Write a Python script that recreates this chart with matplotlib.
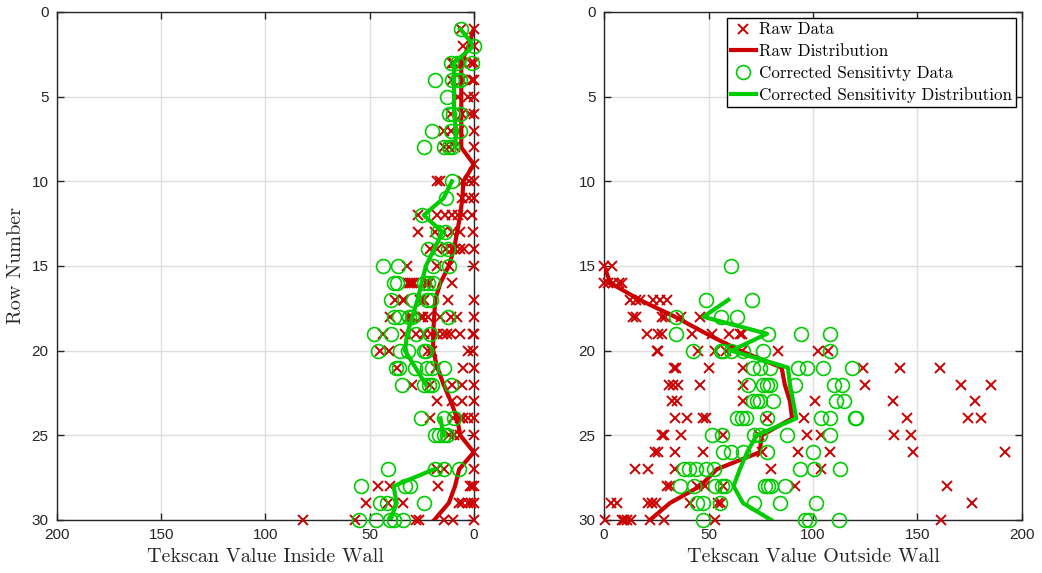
"""Tekscan row profiles: raw vs corrected-sensitivity readings, inside and outside wall."""

import matplotlib
matplotlib.use("Agg")
import matplotlib.pyplot as plt
import numpy as np

nan = np.nan

# ---------------------------------------------------------------------------
# Data (one entry per row, rows 1..30)
# ---------------------------------------------------------------------------
rows = list(range(1, 31))

inside_raw = [
    [0, 6], [5, 0], [10.5, 9.5, 5.5, 1.5, 0], [10.5, 5.5, 1, 0], [7.5, 3, 0],
    [11, 5.5, 2, 0], [14.5, 11, 7, 0], [14.5, 12, 9, 0], [0], [17.5, 16, 5, 2.5, 0],
    [5.5, 2.5, 0], [27, 17.5, 14, 10.5, 7.5, 5, 1], [27, 18.5, 15, 10.5, 6.5, 0.5],
    [21, 17.5, 13.5, 10.5, 9, 6.5, 4.5, 0], [32, 17.5, 12, 0],
    [31.5, 30.5, 29.5, 28.5, 23, 21.5, 10.5], [38, 34, 33.5, 26, 24, 12.5, 0],
    [40, 31, 29.5, 25.5, 24.5, 22, 16, 11, 8, 0],
    [43.5, 33, 27.5, 24, 20.5, 17.5, 15, 13, 11, 6.5, 0.5, 0],
    [45, 40.5, 22, 20, 3, 0.5], [37, 18, 5, 0], [29.5, 21, 10.5, 5.5, 0],
    [17.5, 10.5, 5.5, 0], [21, 10, 6.5, 5, 3, 0], [12, 9.5, 6.5, 0], [0],
    [17.5, 14.5, 0], [46, 40, 17, 2, 1, 0], [51.5, 41, 34, 7, 5.5, 3, 1.5, 0],
    [82, 57, 27.5, 26.5, 14.5, 10, 0],
]
inside_corr = [
    [6], [0], [11, 8, 1], [18.5, 10.5, 8, 6.5], [13], [12, 10, 6.5], [20, 11, 6.5],
    [24, 14.5, 12, 10.5], [], [10.5], [13.5], [25], [17, 14], [22, 16, 12.5],
    [43.5, 36.5, 19.5, 12], [38.5, 37, 24, 22, 19.5], [39.5, 29, 22.5, 20.5],
    [38.5, 36, 31, 29.5, 12.5], [48, 39.5, 27.5, 21], [46, 35.5, 31.5, 24, 23],
    [37.5, 36, 28, 22.5, 20, 14.5], [34.5, 24, 21.5, 20, 11], [], [25.5, 14.5, 9.5],
    [18.5, 16.5, 14.5, 13], [], [41, 18.5, 14.5, 7], [54, 33, 30.5], [45, 41.5, 24],
    [55, 47, 40, 38.5, 34],
]
inside_raw_dist = [0, 2.5, 6, 6, 6, 6, 6, 6, 0, 5, 5.5, 6.5, 8, 9.5, 12,
                   16, 18.5, 19, 19.5, 19.5, 17.5, 14.5, 11, 8, 6.5, 0, 7, 9, 12, 19]
inside_corr_dist = [6.5, 0, 9.5, 9.5, 9.5, 9.5, 8.5, 9, nan, 10.5, 14.5, 24, 15, 19, 23,
                    25, 27, 29.5, 32, 33, 28, 23, nan, 16, 14.5, nan, 19, 38.5, 37, 40]

outside_raw = [[]] * 14 + [
    [0, 4], [0, 2, 4.5, 7, 8.5], [12.5, 15.5, 17, 23.5, 27, 30],
    [14, 15.5, 27.5, 29, 37, 46], [20.5, 26, 27.5, 42, 51.5, 60, 65, 66],
    [25.5, 26, 45, 53, 58.5, 66, 83.5, 102.5, 107],
    [33.5, 34.5, 50, 66.5, 124, 141.5, 161],
    [31, 33, 35.5, 46, 66.5, 125, 171, 185],
    [32.5, 35, 66.5, 101, 138.5, 177.5],
    [34, 39.5, 47.5, 49, 78, 95.5, 145, 174, 180.5],
    [27.5, 28.5, 37, 57, 74, 97, 104, 139, 147],
    [24.5, 26, 34, 47.5, 75.5, 93, 108, 148, 192],
    [15, 21, 34, 80, 104],
    [30, 31.5, 44.5, 48.5, 57, 91.5, 164],
    [3.5, 6, 21, 23, 25, 41, 54.5, 56, 176],
    [0.5, 8.5, 9.5, 11, 13, 22, 28.5, 53, 161.5],
]
outside_corr = [[]] * 14 + [
    [61], [], [49, 71], [34.5, 56, 63.5], [34.5, 78.5, 94.5, 108],
    [42.5, 56, 57, 61, 66.5, 76, 108],
    [71.5, 74.5, 79.5, 93, 97, 105, 118.5],
    [69, 76, 78, 79.5, 91.5, 110, 114],
    [71.5, 73, 74.5, 81, 111, 115],
    [63.5, 66, 68, 78, 104, 108, 120, 120.5],
    [51.5, 56.5, 72, 74.5, 87.5, 108],
    [57, 61, 66.5, 78, 100],
    [38.5, 40.5, 44, 49, 52.5, 94, 100.5, 113],
    [36.5, 43, 53, 56.5, 58, 77, 78.5, 80, 86.5],
    [44.5, 47.5, 55.5, 72, 84, 101.5],
    [47.5, 96, 98, 112.5],
]
outside_raw_dist = [nan] * 14 + [0, 3, 17, 34, 49, 65, 85, 86.5, 89, 90,
                                 75.5, 74.5, 54, 46, 31.5, 22]
outside_corr_dist = [nan] * 14 + [61, nan, 59.5, 47.5, 78, 61, 88, 89, 90.5, 92,
                                  73, 68.5, 65, 62, 66.5, 80]

RED = "#cc0000"
GREEN = "#00cc00"
SERIF = ["cmr10", "DejaVu Serif"]

plt.rcParams["font.family"] = ["Liberation Sans", "DejaVu Sans"]
plt.rcParams["axes.unicode_minus"] = False


def flatten(per_row):
    xs, ys = [], []
    for r, vals in zip(rows, per_row):
        xs.extend(vals)
        ys.extend([r] * len(vals))
    return np.array(xs, dtype=float), np.array(ys, dtype=float)


def draw_panel(ax, raw, corr, raw_dist, corr_dist, xlabel):
    rx, ry = flatten(raw)
    cx, cy = flatten(corr)
    ax.plot(rx, ry, "x", color=RED, ms=7, mew=1.4, label="Raw Data", clip_on=False, zorder=3)
    ax.plot(raw_dist, rows, "-", color=RED, lw=3, label="Raw Distribution", zorder=4)
    ax.plot(cx, cy, "o", mfc="none", mec=GREEN, ms=10, mew=1.2,
            label="Corrected Sensitivty Data", clip_on=False, zorder=5)
    ax.plot(corr_dist, rows, "-", color=GREEN, lw=3,
            label="Corrected Sensitivity Distribution", zorder=6)

    ax.set_ylim(30, 0)
    ax.set_yticks(range(0, 31, 5))
    ax.set_xticks(range(0, 201, 50))
    ax.grid(True, color="#dedede", lw=1)
    ax.set_axisbelow(True)
    ax.tick_params(direction="in", top=True, right=True, length=5, width=1,
                   labelsize=11, colors="#262626", pad=6)
    for sp in ax.spines.values():
        sp.set_color("#262626")
        sp.set_linewidth(1)
    ax.set_xlabel(xlabel, family=SERIF, fontsize=14.5, labelpad=4, color="#262626")


fig = plt.figure(figsize=(10.42, 5.73), dpi=100)
ax1 = fig.add_axes([0.0547, 0.0925, 0.400, 0.8866])
ax2 = fig.add_axes([0.5797, 0.0925, 0.401, 0.8866])

draw_panel(ax1, inside_raw, inside_corr, inside_raw_dist, inside_corr_dist,
           "Tekscan Value Inside Wall")
ax1.set_xlim(200, 0)
ax1.set_ylabel("Row Number", family=SERIF, fontsize=14.5, labelpad=5, color="#262626")

draw_panel(ax2, outside_raw, outside_corr, outside_raw_dist, outside_corr_dist,
           "Tekscan Value Outside Wall")
ax2.set_xlim(0, 200)

leg = ax2.legend(loc="upper right", prop={"family": SERIF, "size": 12.2},
                 fancybox=False, edgecolor="black", framealpha=1,
                 handlelength=1.5, handletextpad=0.15, labelspacing=0.36,
                 borderpad=0.25, borderaxespad=0.35)
leg.get_frame().set_linewidth(1)

fig.savefig("out.png", dpi=100)
